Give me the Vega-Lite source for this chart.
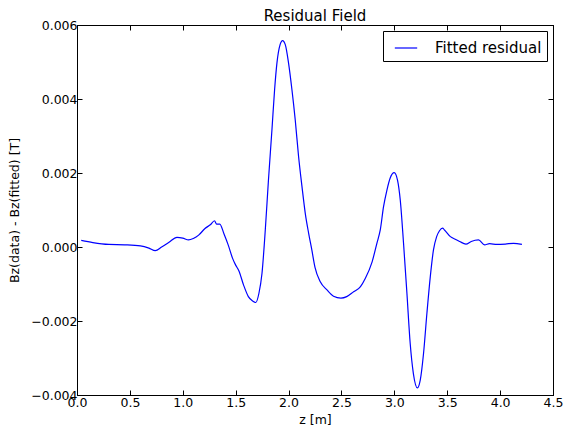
{
  "$schema": "https://vega.github.io/schema/vega-lite/v6.json",
  "autosize": "none",
  "width": 476,
  "height": 370,
  "padding": {"left": 77, "top": 25, "right": 13, "bottom": 34},
  "background": "white",
  "config": {
    "font": "DejaVu Sans",
    "view": {"stroke": "black", "strokeWidth": 1},
    "axis": {
      "grid": false,
      "domainColor": "black",
      "tickColor": "black",
      "tickSize": -5,
      "labelFont": "DejaVu Sans",
      "labelFontSize": 12.5,
      "labelColor": "black",
      "titleFont": "DejaVu Sans",
      "titleFontSize": 12.5,
      "titleFontWeight": "normal",
      "titleColor": "black"
    }
  },
  "title": {"text": "Residual Field", "fontSize": 15, "fontWeight": "normal", "font": "DejaVu Sans", "offset": -20, "baseline": "bottom", "color": "black"},
  "data": {
    "values": [
      {"z": 0.04, "r": 0.00018, "s": "Fitted residual"},
      {"z": 0.15, "r": 0.00012, "s": "Fitted residual"},
      {"z": 0.3, "r": 0.00007, "s": "Fitted residual"},
      {"z": 0.45, "r": 0.00006, "s": "Fitted residual"},
      {"z": 0.6, "r": 0.00003, "s": "Fitted residual"},
      {"z": 0.68, "r": -0.00003, "s": "Fitted residual"},
      {"z": 0.74, "r": -0.0001, "s": "Fitted residual"},
      {"z": 0.8, "r": 0.0, "s": "Fitted residual"},
      {"z": 0.87, "r": 0.00013, "s": "Fitted residual"},
      {"z": 0.945, "r": 0.00026, "s": "Fitted residual"},
      {"z": 1.0, "r": 0.00024, "s": "Fitted residual"},
      {"z": 1.055, "r": 0.00019, "s": "Fitted residual"},
      {"z": 1.1, "r": 0.00023, "s": "Fitted residual"},
      {"z": 1.15, "r": 0.00032, "s": "Fitted residual"},
      {"z": 1.21, "r": 0.0005, "s": "Fitted residual"},
      {"z": 1.26, "r": 0.0006, "s": "Fitted residual"},
      {"z": 1.3, "r": 0.00071, "s": "Fitted residual"},
      {"z": 1.32, "r": 0.00062, "s": "Fitted residual"},
      {"z": 1.35, "r": 0.00062, "s": "Fitted residual"},
      {"z": 1.39, "r": 0.00035, "s": "Fitted residual"},
      {"z": 1.43, "r": 0.00005, "s": "Fitted residual"},
      {"z": 1.47, "r": -0.0003, "s": "Fitted residual"},
      {"z": 1.5, "r": -0.00049, "s": "Fitted residual"},
      {"z": 1.53, "r": -0.00064, "s": "Fitted residual"},
      {"z": 1.575, "r": -0.00103, "s": "Fitted residual"},
      {"z": 1.62, "r": -0.00134, "s": "Fitted residual"},
      {"z": 1.66, "r": -0.00146, "s": "Fitted residual"},
      {"z": 1.69, "r": -0.0015, "s": "Fitted residual"},
      {"z": 1.72, "r": -0.00125, "s": "Fitted residual"},
      {"z": 1.749, "r": -0.00071, "s": "Fitted residual"},
      {"z": 1.78, "r": 0.00046, "s": "Fitted residual"},
      {"z": 1.81, "r": 0.00181, "s": "Fitted residual"},
      {"z": 1.843, "r": 0.00317, "s": "Fitted residual"},
      {"z": 1.868, "r": 0.00425, "s": "Fitted residual"},
      {"z": 1.89, "r": 0.00497, "s": "Fitted residual"},
      {"z": 1.92, "r": 0.00547, "s": "Fitted residual"},
      {"z": 1.943, "r": 0.00558, "s": "Fitted residual"},
      {"z": 1.969, "r": 0.00547, "s": "Fitted residual"},
      {"z": 2.0, "r": 0.00497, "s": "Fitted residual"},
      {"z": 2.032, "r": 0.00425, "s": "Fitted residual"},
      {"z": 2.063, "r": 0.00344, "s": "Fitted residual"},
      {"z": 2.095, "r": 0.00244, "s": "Fitted residual"},
      {"z": 2.127, "r": 0.00163, "s": "Fitted residual"},
      {"z": 2.158, "r": 0.00091, "s": "Fitted residual"},
      {"z": 2.19, "r": 0.00037, "s": "Fitted residual"},
      {"z": 2.22, "r": -0.00008, "s": "Fitted residual"},
      {"z": 2.25, "r": -0.00055, "s": "Fitted residual"},
      {"z": 2.3, "r": -0.00094, "s": "Fitted residual"},
      {"z": 2.363, "r": -0.00116, "s": "Fitted residual"},
      {"z": 2.425, "r": -0.00133, "s": "Fitted residual"},
      {"z": 2.495, "r": -0.00138, "s": "Fitted residual"},
      {"z": 2.55, "r": -0.00134, "s": "Fitted residual"},
      {"z": 2.615, "r": -0.00121, "s": "Fitted residual"},
      {"z": 2.68, "r": -0.00107, "s": "Fitted residual"},
      {"z": 2.725, "r": -0.00085, "s": "Fitted residual"},
      {"z": 2.79, "r": -0.0004, "s": "Fitted residual"},
      {"z": 2.835, "r": 0.0001, "s": "Fitted residual"},
      {"z": 2.867, "r": 0.00046, "s": "Fitted residual"},
      {"z": 2.898, "r": 0.00109, "s": "Fitted residual"},
      {"z": 2.93, "r": 0.00154, "s": "Fitted residual"},
      {"z": 2.96, "r": 0.00186, "s": "Fitted residual"},
      {"z": 2.999, "r": 0.00201, "s": "Fitted residual"},
      {"z": 3.03, "r": 0.00181, "s": "Fitted residual"},
      {"z": 3.056, "r": 0.00127, "s": "Fitted residual"},
      {"z": 3.087, "r": 0.0001, "s": "Fitted residual"},
      {"z": 3.119, "r": -0.00125, "s": "Fitted residual"},
      {"z": 3.15, "r": -0.00261, "s": "Fitted residual"},
      {"z": 3.18, "r": -0.00342, "s": "Fitted residual"},
      {"z": 3.219, "r": -0.00381, "s": "Fitted residual"},
      {"z": 3.245, "r": -0.0036, "s": "Fitted residual"},
      {"z": 3.276, "r": -0.00288, "s": "Fitted residual"},
      {"z": 3.308, "r": -0.00179, "s": "Fitted residual"},
      {"z": 3.34, "r": -0.0008, "s": "Fitted residual"},
      {"z": 3.37, "r": -0.00008, "s": "Fitted residual"},
      {"z": 3.4, "r": 0.00028, "s": "Fitted residual"},
      {"z": 3.427, "r": 0.00044, "s": "Fitted residual"},
      {"z": 3.456, "r": 0.00051, "s": "Fitted residual"},
      {"z": 3.474, "r": 0.00046, "s": "Fitted residual"},
      {"z": 3.53, "r": 0.00028, "s": "Fitted residual"},
      {"z": 3.576, "r": 0.00021, "s": "Fitted residual"},
      {"z": 3.617, "r": 0.00015, "s": "Fitted residual"},
      {"z": 3.677, "r": 0.00008, "s": "Fitted residual"},
      {"z": 3.727, "r": 0.00015, "s": "Fitted residual"},
      {"z": 3.796, "r": 0.00019, "s": "Fitted residual"},
      {"z": 3.853, "r": 0.00006, "s": "Fitted residual"},
      {"z": 3.9, "r": 0.00009, "s": "Fitted residual"},
      {"z": 3.97, "r": 0.00007, "s": "Fitted residual"},
      {"z": 4.05, "r": 0.00008, "s": "Fitted residual"},
      {"z": 4.127, "r": 0.0001, "s": "Fitted residual"},
      {"z": 4.206, "r": 0.00007, "s": "Fitted residual"}
    ]
  },
  "layer": [
    {
      "mark": {"type": "line", "strokeWidth": 1.2, "interpolate": "monotone"},
      "encoding": {
        "x": {"field": "z", "type": "quantitative", "scale": {"domain": [0, 4.5], "nice": false, "zero": false},
          "axis": {"orient": "bottom", "title": "z [m]", "values": [0, 0.5, 1, 1.5, 2, 2.5, 3, 3.5, 4, 4.5], "format": ".1f", "labelPadding": 6, "titlePadding": 5, "labelFlush": false}},
        "y": {"field": "r", "type": "quantitative", "scale": {"domain": [-0.004, 0.006], "nice": false},
          "axis": {"orient": "left", "title": "Bz(data) - Bz(fitted) [T]", "values": [-0.004, -0.002, 0, 0.002, 0.004, 0.006], "format": ".3f", "labelPadding": 5, "titlePadding": 9, "labelFlush": false}},
        "color": {"field": "s", "type": "nominal", "scale": {"range": ["blue"]},
          "legend": {"title": null, "orient": "top-right", "offset": 6, "symbolType": "stroke", "symbolSize": 500, "symbolStrokeWidth": 1.2, "symbolOffset": 6, "labelFontSize": 15, "labelFont": "DejaVu Sans", "labelColor": "black", "strokeColor": "black", "fillColor": "white", "padding": 5, "cornerRadius": 0, "labelOffset": 17}}
      }
    },
    {
      "mark": {"type": "line", "opacity": 0},
      "encoding": {
        "x": {"field": "z", "type": "quantitative", "axis": {"orient": "top", "title": null, "labels": false, "values": [0, 0.5, 1, 1.5, 2, 2.5, 3, 3.5, 4, 4.5]}},
        "y": {"field": "r", "type": "quantitative", "axis": {"orient": "right", "title": null, "labels": false, "values": [-0.004, -0.002, 0, 0.002, 0.004, 0.006]}}
      }
    }
  ],
  "resolve": {"axis": {"x": "independent", "y": "independent"}}
}
